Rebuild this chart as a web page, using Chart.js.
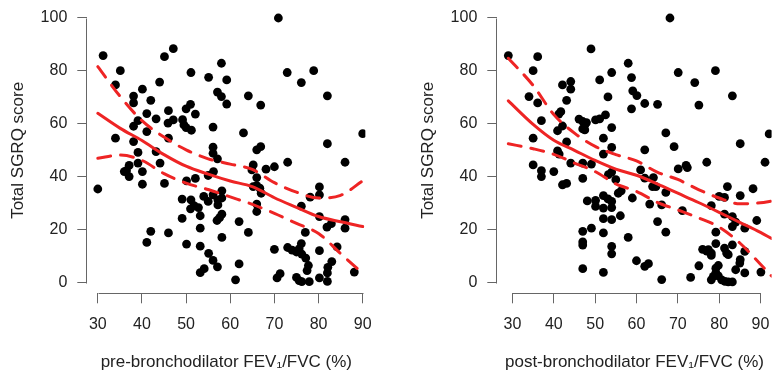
<!DOCTYPE html>
<html><head><meta charset="utf-8">
<script src="https://cdn.jsdelivr.net/npm/chart.js@4.4.1/dist/chart.umd.min.js"></script>
<style>
html,body{margin:0;padding:0;background:#fff;overflow:hidden;width:776px;height:373px}
#wrap{position:relative;width:776px;height:373px;overflow:hidden}
canvas{position:absolute;top:0}
#c1{left:0}
#c2{left:410px}
</style></head><body>
<div id="wrap"><canvas id="c1" width="410" height="373"></canvas><canvas id="c2" width="366" height="373"></canvas></div>
<script>
// ---- tick labels ----
const xTicks = [30, 40, 50, 60, 70, 80, 90];
const yTicks = [0, 20, 40, 60, 80, 100];

// ---- left panel: pre-bronchodilator FEV1/FVC (%) vs Total SGRQ score ----
const preX = [31.2,47.1,45.1,35.1,58.0,51.1,55.1,59.2,34.0,44.0,40.1,38.1,38.1,42.0,57.1,58.0,59.2,51.0,50.0,46.0,
  41.1,52.1,43.2,47.1,45.9,49.2,49.5,50.0,51.2,39.1,38.1,41.1,56.1,34.0,38.1,46.0,56.1,56.1,39.1,43.2,
  70.9,72.9,78.9,76.1,64.1,82.0,66.9,63.0,90.0,82.0,66.0,66.9,57.1,39.1,37.1,36.5,37.1,36.0,40.1,40.1,
  44.1,45.1,30.0,50.1,52.1,55.0,56.2,56.1,54.0,58.1,55.0,57.2,58.1,57.2,49.1,51.1,51.8,51.0,52.8,53.2,
  49.1,58.1,57.6,57.0,53.2,42.0,46.0,41.1,50.1,58.1,53.2,55.1,56.1,57.1,54.1,53.2,86.0,73.0,70.0,68.1,
  65.2,64.9,66.0,66.0,65.2,66.7,67.0,80.2,80.2,78.1,76.1,66.0,66.0,80.2,86.0,86.0,82.9,81.9,62.0,64.1,
  77.0,70.0,73.0,74.0,75.0,75.6,76.1,76.2,77.1,77.7,77.4,80.2,84.2,83.0,82.1,82.0,82.0,80.2,62.0,61.2,
  71.3,70.6,75.0,75.6,76.2,77.9,88.1];
const preY = [85.8,88.4,85.4,80.1,82.9,79.4,77.6,76.6,74.7,75.8,73.1,70.5,67.9,68.9,72.0,70.3,67.5,67.4,65.7,65.0,
  63.9,63.7,61.9,61.5,60.3,61.6,59.6,58.6,57.6,61.2,59.1,57.1,58.8,54.6,53.3,54.6,51.2,48.9,49.2,49.5,
  100,79.4,80.1,75.6,70.6,70.6,67.1,56.6,56.3,52.5,50.2,51.4,46.8,45.2,44.3,42.3,40.1,42.0,42.0,37.2,
  45.2,37.5,35.4,38.5,39.4,40.5,42.0,33.2,32.6,34.7,30.7,31.3,32.0,29.4,31.6,31.3,29.1,27.9,28.4,25.3,
  24.3,25.9,24.6,23.5,20.6,19.4,18.8,15.2,14.6,17.1,13.8,11.1,8.4,6.0,5.3,3.8,45.5,45.5,43.8,42.9,
  44.5,42.6,39.7,36.7,36.3,35.7,33.8,36.2,33.2,32.3,28.9,29.7,26.9,25.0,23.8,20.6,22.3,21.0,23.1,19.0,
  19.0,12.6,13.3,12.3,11.6,12.8,14.8,10.8,9.3,6.5,4.6,12.1,13.5,8.0,5.8,3.7,0.5,1.8,7.1,1.1,
  3.4,1.8,2.0,0.8,0.4,0.4,4.0];
const preFitX   = [30, 35, 40, 45, 50, 55, 60, 65, 70, 75, 80, 85, 90];
const preFit    = [64.0, 58.4, 53.7, 48.4, 44.0, 41.0, 38.4, 36.3, 32.1, 28.5, 25.0, 23.0, 21.2];
const preUpper  = [81.6, 70.5, 61.2, 55.0, 50.2, 46.8, 44.8, 42.8, 37.8, 34.2, 32.0, 33.0, 38.5];
const preLower  = [47.0, 48.2, 46.2, 41.2, 37.6, 35.2, 32.4, 29.6, 26.2, 22.4, 18.6, 11.0, 3.5];

// ---- right panel: post-bronchodilator FEV1/FVC (%) vs Total SGRQ score ----
const postX = [29.0,36.1,49.0,35.0,58.0,54.0,58.8,51.1,42.1,44.1,44.1,34.0,36.1,43.1,53.1,59.1,60.1,58.8,41.7,41.2,
  37.0,46.1,47.0,47.5,47.9,47.0,47.5,50.1,51.1,52.5,42.1,40.9,54.0,35.0,52.0,43.1,54.0,40.9,41.3,68.1,
  70.1,79.1,74.1,83.2,62.0,65.1,75.1,67.1,92.1,85.1,62.0,69.1,52.0,35.0,37.0,37.0,40.0,44.1,47.0,49.1,
  47.0,42.1,43.1,53.2,54.0,55.0,55.6,56.3,48.1,50.1,50.1,52.0,53.1,54.0,54.0,52.0,52.0,54.0,56.1,47.0,
  49.1,52.0,47.0,47.0,54.0,54.0,58.0,47.0,52.0,60.0,77.0,70.1,72.0,72.3,91.1,61.0,62.0,64.1,63.9,64.7,
  67.1,59.0,63.2,66.1,71.1,82.0,80.0,81.3,85.1,88.2,78.1,81.3,83.2,84.0,83.2,86.2,89.1,65.1,67.1,79.2,
  79.2,76.0,77.0,78.1,78.1,77.4,81.3,81.8,82.2,83.2,86.2,85.1,85.0,62.0,62.9,66.1,73.1,75.1,78.1,78.6,
  79.2,79.8,80.6,81.4,82.2,83.2,79.2,79.8,84.0,86.2,90.1];
const postY = [85.8,85.4,88.3,80.1,82.9,79.4,77.5,76.6,74.7,76.0,73.1,70.3,67.9,68.9,70.2,72.5,70.7,65.7,64.6,63.7,
  61.2,61.8,60.9,59.6,60.5,58.1,57.7,61.5,61.9,63.4,59.2,57.4,58.6,54.6,54.6,53.2,51.1,49.8,48.6,100,
  79.4,80.1,75.6,70.6,67.7,67.4,67.1,56.6,56.2,52.5,50.2,51.4,48.6,44.5,42.3,40.1,42.0,45.2,45.2,44.8,
  39.4,37.0,37.5,40.8,41.8,38.9,33.8,34.7,30.9,31.1,28.8,32.9,31.7,30.7,28.4,28.2,24.2,23.8,25.3,19.4,
  20.6,18.8,15.4,14.2,13.7,10.9,17.1,5.3,3.9,8.3,45.5,43.0,44.3,43.5,45.5,42.6,39.5,39.7,36.3,36.3,
  34.1,32.0,29.7,29.4,27.2,36.3,32.6,32.2,32.9,35.5,29.1,25.9,25.0,22.9,21.2,20.6,23.5,23.1,19.1,19.1,
  14.8,12.6,11.9,11.2,10.3,12.5,13.1,11.2,10.6,14.3,11.8,8.7,7.4,6.2,7.2,1.2,2.0,6.4,1.1,2.4,
  3.7,2.6,1.1,0.5,0.3,0.3,5.5,6.5,4.9,3.7,4.0];
const postFitX  = [29, 35, 40, 45, 50, 55, 60, 65, 70, 75, 80, 85, 90, 92.7];
const postFit   = [68.7, 59.8, 53.8, 50.0, 46.2, 42.9, 40.6, 37.3, 33.8, 30.3, 26.6, 22.8, 19.0, 16.7];
const postUpper = [84.8, 74.5, 63.5, 56.5, 51.5, 48.4, 46.0, 41.8, 39.0, 35.2, 32.0, 29.8, 30.2, 30.8];
const postLower = [52.5, 50.6, 48.5, 45.2, 42.0, 37.3, 34.5, 30.4, 27.5, 24.5, 21.0, 15.0, 7.0, 2.5];

const RED = '#ee2424';
const AXIS = '#666666';
const TEXT = '#222222';
const FONT = "'Liberation Sans', Arial, Helvetica, sans-serif";

const axisLines = {
  id: 'axisLines',
  afterDraw(chart) {
    const {ctx, chartArea: a, scales: {x, y}} = chart;
    ctx.save();
    ctx.strokeStyle = AXIS;
    ctx.lineWidth = 1;
    ctx.beginPath();
    const yb = Math.round(a.bottom) + 0.5;
    ctx.moveTo(Math.round(x.getPixelForValue(xTicks[0])) + 0.5, yb);
    ctx.lineTo(Math.round(x.getPixelForValue(xTicks[xTicks.length - 1])) + 0.5, yb);
    const xl = Math.round(a.left) - 0.5;
    ctx.moveTo(xl, Math.round(y.getPixelForValue(yTicks[0])) + 0.5);
    ctx.lineTo(xl, Math.round(y.getPixelForValue(yTicks[yTicks.length - 1])) + 0.5);
    ctx.stroke();
    ctx.restore();
  }
};

function zeroPad(s) {
  s.paddingTop = 0; s.paddingBottom = 0; s.paddingLeft = 0; s.paddingRight = 0;
}

function makeChart(id, c) {
  const pts = c.px.map((x, i) => ({x: x, y: c.py[i]}));
  const line = ys => c.fitX.map((x, i) => ({x: x, y: ys[i]}));
  const lineDs = (ys, dash) => ({
    data: line(ys), showLine: true, borderColor: RED, backgroundColor: RED,
    borderWidth: 3, pointRadius: 0, borderDash: dash, borderCapStyle: 'round',
    borderJoinStyle: 'round', tension: 0.4, cubicInterpolationMode: 'monotone', order: 0
  });
  new Chart(document.getElementById(id), {
    type: 'scatter',
    data: {datasets: [
      lineDs(c.fit, []),
      lineDs(c.upper, [13, 10]),
      lineDs(c.lower, [13, 10]),
      {data: pts, backgroundColor: '#000', borderColor: '#000', pointRadius: 4.4, borderWidth: 0, order: 1}
    ]},
    options: {
      responsive: false, animation: false, devicePixelRatio: 1, events: [],
      layout: {padding: {left: 0, top: 7.4, right: c.padRight, bottom: 0}},
      plugins: {legend: {display: false}, tooltip: {enabled: false}},
      scales: {
        x: {
          type: 'linear', position: 'bottom', min: c.xMin, max: c.xMax,
          afterBuildTicks: s => { s.ticks = xTicks.map(v => ({value: v})); },
          afterFit: s => { s.height = 79.7; zeroPad(s); },
          grid: {display: true, drawOnChartArea: false, drawTicks: true, tickLength: 10, color: AXIS, lineWidth: 1},
          border: {display: false},
          ticks: {padding: 12, color: TEXT, font: {size: 16, family: FONT}, maxRotation: 0, autoSkip: false},
          title: {display: true, text: c.xTitle, color: TEXT, font: {size: 17, family: FONT}, padding: {top: 0, bottom: 0}}
        },
        y: {
          type: 'linear', position: 'left', min: -4, max: 104,
          afterBuildTicks: s => { s.ticks = yTicks.map(v => ({value: v})); },
          afterFit: s => { s.width = 87.3; zeroPad(s); },
          grid: {display: true, drawOnChartArea: false, drawTicks: true, tickLength: 10, color: AXIS, lineWidth: 1},
          border: {display: false},
          ticks: {padding: 10, color: TEXT, font: {size: 16, family: FONT}, autoSkip: false},
          title: {display: true, text: 'Total SGRQ score', color: TEXT, font: {size: 17, family: FONT}, padding: {top: 8, bottom: 0}}
        }
      }
    },
    plugins: [axisLines]
  });
}

makeChart('c1', {
  px: preX, py: preY, fitX: preFitX, fit: preFit, upper: preUpper, lower: preLower,
  xMin: 27.62, xMax: 90.6, padRight: 44.65,
  xTitle: 'pre-bronchodilator FEV\u2081/FVC (%)'
});
makeChart('c2', {
  px: postX, py: postY, fitX: postFitX, fit: postFit, upper: postUpper, lower: postLower,
  xMin: 26.33, xMax: 92.69, padRight: 0,
  xTitle: 'post-bronchodilator FEV\u2081/FVC (%)'
});
</script>
</body></html>
